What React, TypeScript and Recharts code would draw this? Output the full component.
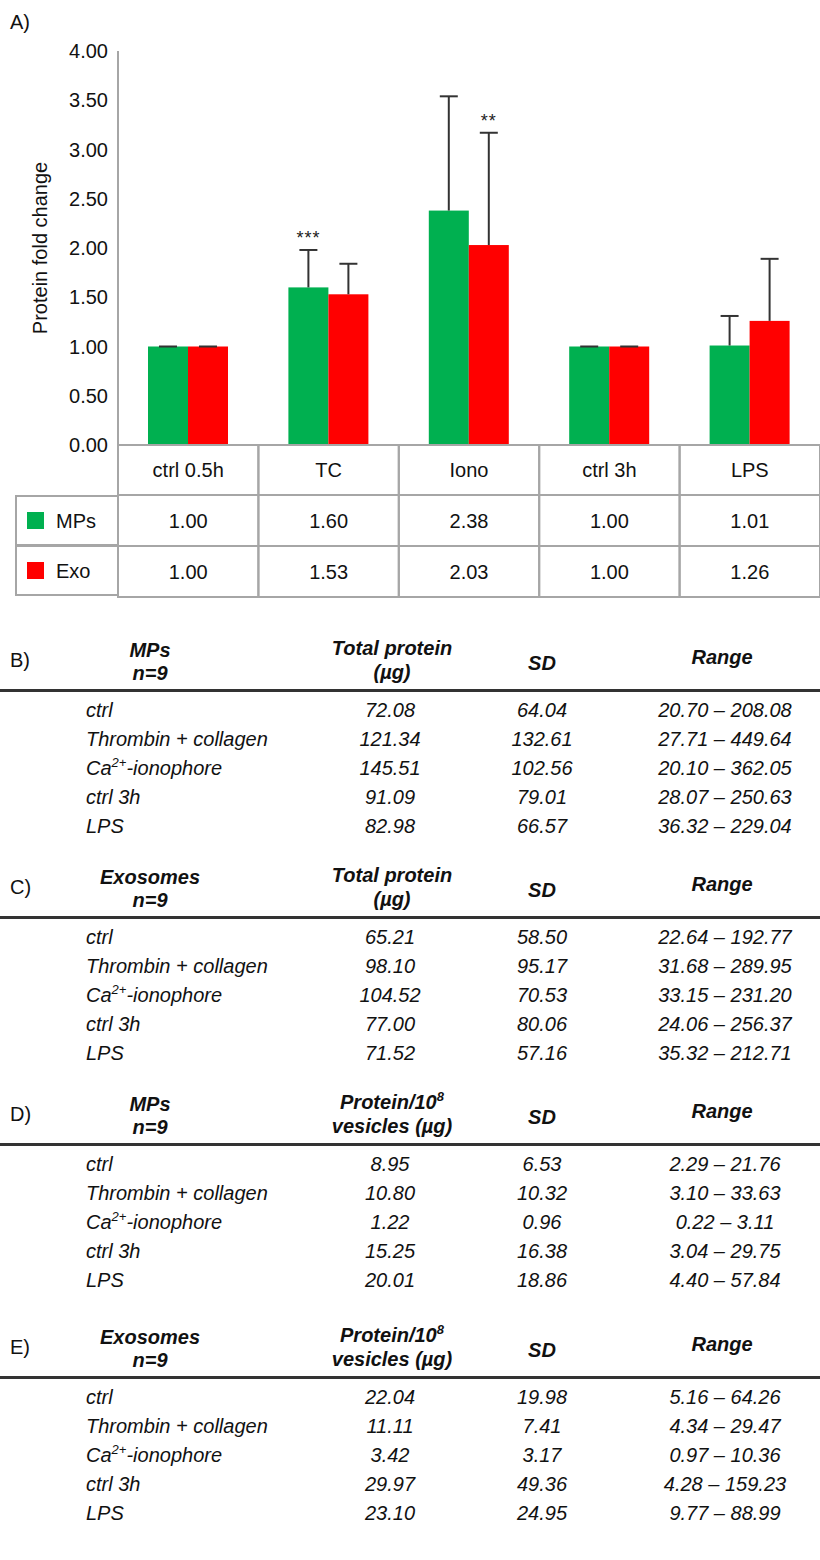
import React from 'react';
import { Bar, BarChart, Label, XAxis, YAxis } from 'recharts';

// panel A: fold change of protein per condition
const categories = ['ctrl 0.5h', 'TC', 'Iono', 'ctrl 3h', 'LPS'];
const mpsFold = [1.0, 1.6, 2.38, 1.0, 1.01];
const exoFold = [1.0, 1.53, 2.03, 1.0, 1.26];
const mpsSd = [0, 0.38, 1.16, 0, 0.3];
const exoSd = [0, 0.31, 1.14, 0, 0.63];
const mpsSig = ['', '***', '', '', ''];
const exoSig = ['', '', '**', '', ''];
const yTicks = [0, 0.5, 1, 1.5, 2, 2.5, 3, 3.5, 4];

// panels B-E
const conditions = ['ctrl', 'Thrombin + collagen', 'Ca2+-ionophore', 'ctrl 3h', 'LPS'];

const mpsTotal = [72.08, 121.34, 145.51, 91.09, 82.98];
const mpsTotalSd = [64.04, 132.61, 102.56, 79.01, 66.57];
const mpsTotalRange = [[20.7, 208.08], [27.71, 449.64], [20.1, 362.05], [28.07, 250.63], [36.32, 229.04]];

const exoTotal = [65.21, 98.1, 104.52, 77.0, 71.52];
const exoTotalSd = [58.5, 95.17, 70.53, 80.06, 57.16];
const exoTotalRange = [[22.64, 192.77], [31.68, 289.95], [33.15, 231.2], [24.06, 256.37], [35.32, 212.71]];

const mpsPerVes = [8.95, 10.8, 1.22, 15.25, 20.01];
const mpsPerVesSd = [6.53, 10.32, 0.96, 16.38, 18.86];
const mpsPerVesRange = [[2.29, 21.76], [3.1, 33.63], [0.22, 3.11], [3.04, 29.75], [4.4, 57.84]];

const exoPerVes = [22.04, 11.11, 3.42, 29.97, 23.1];
const exoPerVesSd = [19.98, 7.41, 3.17, 49.36, 24.95];
const exoPerVesRange = [[5.16, 64.26], [4.34, 29.47], [0.97, 10.36], [4.28, 159.23], [9.77, 88.99]];

const GREEN = '#00B050';
const RED = '#FF0000';
const GRID = '#a6a6a6';
const FONT = '"Liberation Sans", Arial, Helvetica, sans-serif';

const CHART_W = 820;
const AXIS_W = 118;
const BAND = (CHART_W - AXIS_W) / categories.length;
const ROW_H = [50, 51, 51];

const chartData = categories.map((name, i) => ({
  name,
  mps: mpsFold[i],
  exo: exoFold[i],
  mpsSd: mpsSd[i],
  exoSd: exoSd[i],
  mpsSig: mpsSig[i],
  exoSig: exoSig[i],
}));

function barWithError(sdKey: string, sigKey: string, color: string, valKey: string) {
  return (props: any) => {
    const { x, y, width, height, payload } = props;
    const val = payload[valKey];
    const pxPerUnit = val ? height / val : 0;
    const top = y - payload[sdKey] * pxPerUnit;
    const cx = x + width / 2;
    const sig = payload[sigKey];
    return (
      <g>
        <rect x={x} y={y} width={width} height={height} fill={color} />
        <line x1={cx} y1={y} x2={cx} y2={top} stroke="#333" strokeWidth={2} />
        <line x1={cx - 9} y1={top} x2={cx + 9} y2={top} stroke="#333" strokeWidth={2} />
        {sig ? (
          <text x={cx} y={top - 6} textAnchor="middle" fontSize={18} fill="#222" letterSpacing={1}>
            {sig}
          </text>
        ) : null}
      </g>
    );
  };
}

function TableTick(props: any) {
  const { x, y, payload, index } = props;
  const left = x - BAND / 2;
  const rows = [payload.value, mpsFold[index].toFixed(2), exoFold[index].toFixed(2)];
  let top = y;
  return (
    <g>
      {rows.map((txt, r) => {
        const h = ROW_H[r];
        const cellTop = top;
        top += h;
        return (
          <g key={r}>
            <rect x={left} y={cellTop} width={BAND} height={h} fill="none" stroke={GRID} strokeWidth={2} />
            <text x={x} y={cellTop + h / 2 + 7} textAnchor="middle" fontSize={20} fill="#111">
              {txt}
            </text>
          </g>
        );
      })}
    </g>
  );
}

function Centered({ cx, cy, children, bold }: any) {
  return (
    <div
      style={{
        position: 'absolute',
        left: cx - 150,
        width: 300,
        top: cy - 12,
        lineHeight: '24px',
        textAlign: 'center',
        fontSize: 20,
        fontStyle: 'italic',
        fontWeight: bold ? 'bold' : 'normal',
        whiteSpace: 'nowrap',
      }}
    >
      {children}
    </div>
  );
}

function condLabel(c: string) {
  if (c.startsWith('Ca2+')) {
    return (
      <>
        Ca<sup style={{ fontSize: 13, lineHeight: 0 }}>2+</sup>-ionophore
      </>
    );
  }
  return c;
}

function StatTable({ lineY, panel, title, measure, values, sds, ranges }: any) {
  return (
    <>
      <div style={{ position: 'absolute', left: 10, top: lineY - 42, fontSize: 20, lineHeight: '24px' }}>{panel}</div>
      <Centered cx={150} cy={lineY - 40} bold>{title}</Centered>
      <Centered cx={150} cy={lineY - 17} bold>n=9</Centered>
      <Centered cx={392} cy={lineY - 42} bold>{measure[0]}</Centered>
      <Centered cx={392} cy={lineY - 18} bold>{measure[1]}</Centered>
      <Centered cx={542} cy={lineY - 27} bold>SD</Centered>
      <Centered cx={722} cy={lineY - 33} bold>Range</Centered>
      <div style={{ position: 'absolute', left: 0, width: 820, top: lineY - 1, height: 3, background: '#333' }} />
      {conditions.map((c, i) => {
        const cy = lineY + 20 + i * 29;
        return (
          <React.Fragment key={c}>
            <div
              style={{
                position: 'absolute',
                left: 86,
                top: cy - 12,
                lineHeight: '24px',
                fontSize: 20,
                fontStyle: 'italic',
                whiteSpace: 'nowrap',
              }}
            >
              {condLabel(c)}
            </div>
            <Centered cx={390} cy={cy}>{values[i].toFixed(2)}</Centered>
            <Centered cx={542} cy={cy}>{sds[i].toFixed(2)}</Centered>
            <Centered cx={725} cy={cy}>
              {ranges[i][0].toFixed(2)} – {ranges[i][1].toFixed(2)}
            </Centered>
          </React.Fragment>
        );
      })}
    </>
  );
}

function LegendCell({ top, color, label }: any) {
  return (
    <div
      style={{
        position: 'absolute',
        left: 15,
        top,
        width: AXIS_W - 15,
        height: 51,
        boxSizing: 'border-box',
        border: `2px solid ${GRID}`,
        borderRight: 'none',
      }}
    >
      <div style={{ position: 'absolute', left: 10, top: 15, width: 17, height: 17, background: color }} />
      <div style={{ position: 'absolute', left: 39, top: 12, fontSize: 20, lineHeight: '24px' }}>{label}</div>
    </div>
  );
}

export default function App() {
  const per108 = (
    <>
      Protein/10<sup style={{ fontSize: 13, lineHeight: 0 }}>8</sup>
    </>
  );
  return (
    <div
      style={{
        position: 'absolute',
        left: 0,
        top: 0,
        width: 820,
        height: 1560,
        background: '#fff',
        color: '#111',
        fontFamily: FONT,
        overflow: 'hidden',
      }}
    >
      <div style={{ position: 'absolute', left: 10, top: 10, fontSize: 20, lineHeight: '24px' }}>A)</div>
      <div style={{ position: 'absolute', left: 0, top: 0 }}>
        <BarChart
          width={CHART_W}
          height={601}
          data={chartData}
          margin={{ top: 51, right: 0, bottom: 4, left: 0 }}
          barGap={0}
        >
          <XAxis
            dataKey="name"
            height={152}
            interval={0}
            tickLine={false}
            tickSize={0}
            tickMargin={0}
            axisLine={{ stroke: GRID, strokeWidth: 2 }}
            tick={<TableTick />}
          />
          <YAxis
            width={AXIS_W}
            domain={[0, 4]}
            ticks={yTicks}
            tickFormatter={(v: number) => v.toFixed(2)}
            tickLine={false}
            tickSize={0}
            tickMargin={10}
            axisLine={{ stroke: GRID, strokeWidth: 2 }}
            tick={{ fill: '#111', fontSize: 20 }}
          >
            <Label
              value="Protein fold change"
              angle={-90}
              position="center"
              dx={-19}
              style={{ fontSize: 20, fill: '#111' }}
            />
          </YAxis>
          <Bar
            dataKey="mps"
            barSize={40}
            fill={GREEN}
            isAnimationActive={false}
            shape={barWithError('mpsSd', 'mpsSig', GREEN, 'mps')}
          />
          <Bar
            dataKey="exo"
            barSize={40}
            fill={RED}
            isAnimationActive={false}
            shape={barWithError('exoSd', 'exoSig', RED, 'exo')}
          />
        </BarChart>
      </div>
      <LegendCell top={495} color={GREEN} label="MPs" />
      <LegendCell top={545} color={RED} label="Exo" />

      <StatTable
        lineY={690}
        panel="B)"
        title="MPs"
        measure={['Total protein', '(µg)']}
        values={mpsTotal}
        sds={mpsTotalSd}
        ranges={mpsTotalRange}
      />
      <StatTable
        lineY={917}
        panel="C)"
        title="Exosomes"
        measure={['Total protein', '(µg)']}
        values={exoTotal}
        sds={exoTotalSd}
        ranges={exoTotalRange}
      />
      <StatTable
        lineY={1144}
        panel="D)"
        title="MPs"
        measure={[per108, 'vesicles (µg)']}
        values={mpsPerVes}
        sds={mpsPerVesSd}
        ranges={mpsPerVesRange}
      />
      <StatTable
        lineY={1377}
        panel="E)"
        title="Exosomes"
        measure={[per108, 'vesicles (µg)']}
        values={exoPerVes}
        sds={exoPerVesSd}
        ranges={exoPerVesRange}
      />
    </div>
  );
}
